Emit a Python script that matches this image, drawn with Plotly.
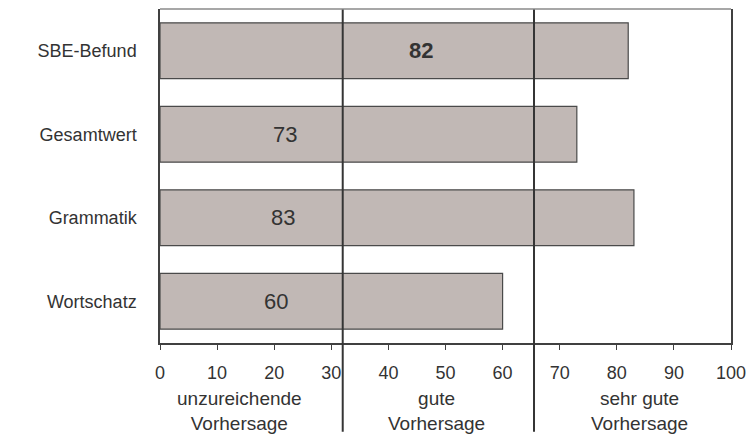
import plotly.graph_objects as go

categories = ["SBE-Befund", "Gesamtwert", "Grammatik", "Wortschatz"]
values = [82, 73, 83, 60]
value_labels = ["82", "73", "83", "60"]
tick_values = [0, 10, 20, 30, 40, 50, 60, 70, 80, 90, 100]
zone_bounds = [32, 65.5]
zone_labels = ["unzureichende<br>Vorhersage", "gute<br>Vorhersage", "sehr gute<br>Vorhersage"]

XMIN, XMAX = 0, 100
FONT = "Liberation Sans, Arial, sans-serif"
TXT = "#333333"

fig = go.Figure()
fig.add_trace(go.Bar(
    y=categories, x=values, orientation="h",
    marker=dict(color="#C1B8B5", line=dict(color="#4a4a4a", width=1.2)),
    width=0.67, hoverinfo="skip",
))

# bar value labels
label_x = [45.7, 21.9, 21.5, 20.3]
label_bold = [True, False, False, False]
annotations = []
for cat, txt, lx, b in zip(categories, value_labels, label_x, label_bold):
    annotations.append(dict(
        x=lx, y=cat, xref="x", yref="y", showarrow=False,
        text=f"<b>{txt}</b>" if b else txt,
        font=dict(family=FONT, size=22, color=TXT),
        xanchor="center", yanchor="middle",
    ))

# zone labels below the axis
zone_x = [14, 48.5, 84]
for zx, zl in zip(zone_x, zone_labels):
    annotations.append(dict(
        x=zx, y=-0.205, xref="x", yref="paper", showarrow=False,
        text=zl, font=dict(family=FONT, size=19, color=TXT),
        xanchor="center", yanchor="middle", align="center",
    ))

shapes = []
for v in zone_bounds:
    xp = (v - XMIN) / (XMAX - XMIN)
    shapes.append(dict(type="line", xref="paper", yref="paper",
                       x0=xp, x1=xp, y0=-0.266, y1=1,
                       line=dict(color="#353535", width=2)))
# top border
shapes.append(dict(type="line", xref="paper", yref="paper",
                   x0=0, x1=1, y0=1, y1=1,
                   line=dict(color="#8a8a8a", width=1.5)))

fig.update_layout(
    width=750, height=439,
    margin=dict(l=160, r=19, t=9, b=96),
    paper_bgcolor="white", plot_bgcolor="white",
    showlegend=False,
    bargap=0.33,
    annotations=annotations,
    shapes=shapes,
    font=dict(family=FONT, color=TXT),
    xaxis=dict(
        range=[XMIN, XMAX], tickvals=tick_values,
        ticktext=[str(t) for t in tick_values],
        showgrid=False, zeroline=False, automargin=False,
        showline=True, linecolor="#404040", linewidth=1.5,
        ticks="outside", ticklen=5, tickcolor="#404040", tickwidth=1.2,
        tickfont=dict(family=FONT, size=18, color=TXT),
        ticklabelstandoff=8,
    ),
    yaxis=dict(
        categoryorder="array", categoryarray=categories,
        autorange="reversed", automargin=False,
        showgrid=False, zeroline=False,
        showline=True, linecolor="#404040", linewidth=1.5, mirror=True,
        ticks="",
        tickfont=dict(family=FONT, size=18, color=TXT),
        ticklabelstandoff=18,
    ),
)

fig.write_html(
    "out.html",
    config={"displayModeBar": False},
    post_script="document.body.style.margin='0';document.body.style.overflow='hidden';",
)
